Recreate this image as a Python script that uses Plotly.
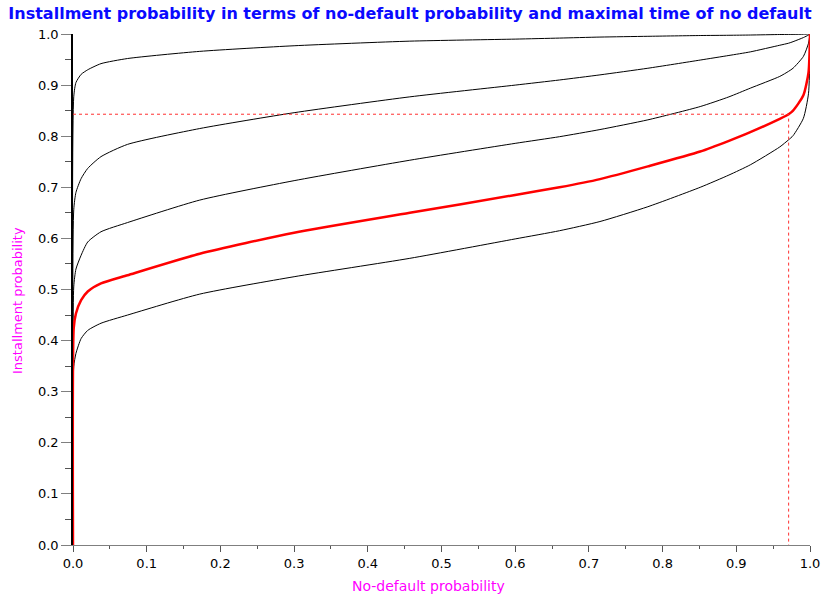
import plotly.graph_objects as go

# No-default probability (x) sample points
no_default = [0, 0.001, 0.004, 0.011, 0.02, 0.038, 0.074, 0.172, 0.3, 0.457,
              0.6, 0.66, 0.715, 0.78, 0.851, 0.89, 0.919, 0.959, 0.971, 0.977,
              0.991, 0.998, 1.0]

# Installment probability curves (top to bottom)
curve_1 = [0, 0.877, 0.905, 0.921, 0.930, 0.942, 0.952, 0.966, 0.977, 0.986,
           0.990, 0.992, 0.994, 0.9955, 0.997, 0.9975, 0.998, 0.999, 0.9992, 0.9993,
           0.9996, 0.9999, 1.0]
curve_2 = [0, 0.656, 0.690, 0.717, 0.737, 0.760, 0.784, 0.815, 0.846, 0.877,
           0.900, 0.910, 0.920, 0.933, 0.949, 0.958, 0.965, 0.978, 0.982, 0.985,
           0.993, 0.998, 1.0]
curve_3 = [0, 0.505, 0.540, 0.567, 0.593, 0.613, 0.631, 0.675, 0.713, 0.753,
           0.786, 0.799, 0.813, 0.832, 0.858, 0.877, 0.894, 0.917, 0.927, 0.933,
           0.956, 0.982, 1.0]
curve_red = [0, 0.425, 0.453, 0.479, 0.496, 0.512, 0.528, 0.570, 0.611, 0.650,
             0.685, 0.700, 0.716, 0.741, 0.770, 0.791, 0.808, 0.834, 0.843, 0.850,
             0.880, 0.925, 1.0]
curve_5 = [0, 0.349, 0.375, 0.404, 0.420, 0.434, 0.450, 0.491, 0.525, 0.561,
           0.599, 0.615, 0.633, 0.662, 0.700, 0.724, 0.744, 0.779, 0.793, 0.801,
           0.835, 0.884, 1.0]

# Marked point on the red curve
mark_x = 0.971
mark_y = 0.843

FONT = "DejaVu Sans, Verdana, sans-serif"
L, R, T, B, W, H = 73, 12, 34, 56, 822, 601
PW, PH = W - L - R, H - T - B

fig = go.Figure()
for c in [curve_1, curve_2, curve_3, curve_5]:
    fig.add_trace(go.Scatter(x=no_default, y=c, mode="lines",
                             line=dict(color="black", width=1, shape="spline", smoothing=0.6),
                             hoverinfo="skip"))
fig.add_trace(go.Scatter(x=no_default, y=curve_red, mode="lines",
                         line=dict(color="red", width=2.5, shape="spline", smoothing=0.6)))
fig.add_trace(go.Scatter(x=[0, mark_x, mark_x], y=[mark_y, mark_y, 0], mode="lines",
                         line=dict(color="#ff3030", width=1, dash="dot")))

fig.update_layout(
    width=W, height=H,
    margin=dict(l=L, r=R, t=T, b=B, autoexpand=False),
    paper_bgcolor="white", plot_bgcolor="white",
    showlegend=False,
    font=dict(family=FONT, size=13, color="black"),
    title=dict(text="<b>Installment probability in terms of no-default probability and maximal time of no default</b>",
               font=dict(family=FONT, size=16, color="#0a0aff"),
               x=410 / W, xref="container", xanchor="center",
               y=1 - 13 / H, yref="container", yanchor="middle"),
    xaxis=dict(range=[0, 1], dtick=0.1, tick0=0, tickformat=".1f", automargin=False,
               showgrid=False, zeroline=False,
               showline=True, linecolor="#7f7f7f", linewidth=1,
               ticks="outside", ticklen=6, tickcolor="#555555", tickwidth=1,
               minor=dict(dtick=0.05, ticks="outside", ticklen=3, tickcolor="#555555", showgrid=False)),
    yaxis=dict(range=[0, 1], dtick=0.1, tick0=0, tickformat=".1f", automargin=False,
               showgrid=False, zeroline=False,
               showline=True, linecolor="black", linewidth=1.5,
               ticks="outside", ticklen=10, tickcolor="#7f7f7f", tickwidth=1,
               minor=dict(dtick=0.05, ticks="outside", ticklen=6, tickcolor="#555555", showgrid=False)),
    annotations=[
        dict(text="No-default probability", xref="paper", yref="paper",
             x=(428 - L) / PW, y=(H - B - 586) / PH, xanchor="center", yanchor="middle",
             showarrow=False, font=dict(size=14, color="#ff00ff")),
        dict(text="Installment probability", xref="paper", yref="paper",
             x=(17 - L) / PW, y=(H - B - 301) / PH, xanchor="center", yanchor="middle",
             textangle=-90, showarrow=False, font=dict(size=13, color="#ff00ff")),
    ],
)

fig.write_html("out.html", config={"displayModeBar": False},
               post_script="document.body.style.margin='0px';")
